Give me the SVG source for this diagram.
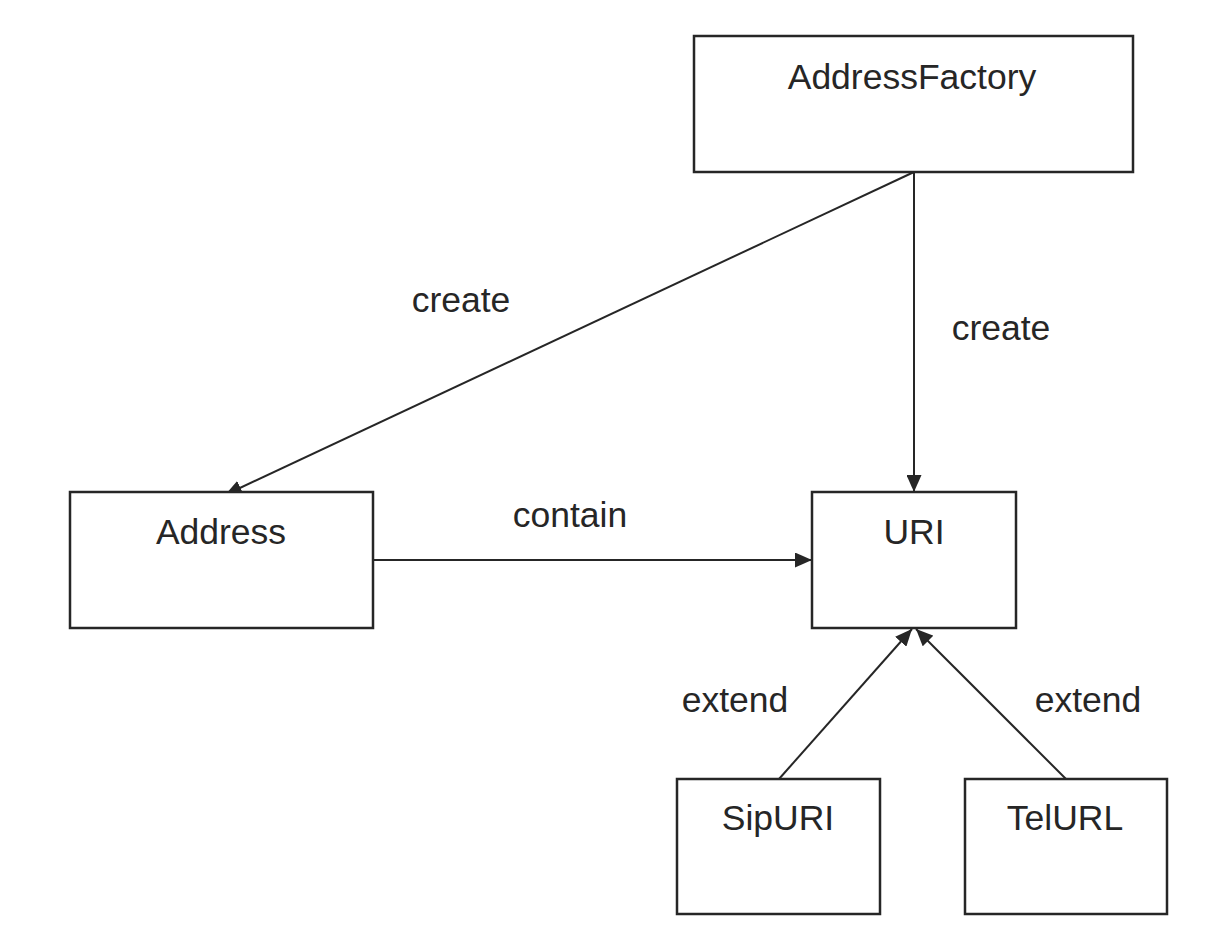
<svg xmlns="http://www.w3.org/2000/svg" width="1218" height="932" viewBox="0 0 1218 932">
<defs>
<marker id="arr" markerUnits="userSpaceOnUse" markerWidth="17" markerHeight="15" viewBox="0 0 17 15" refX="17" refY="7.5" orient="auto">
<path d="M0,0 L17,7.5 L0,15 z" fill="#262626"/>
</marker>
</defs>
<style>
.box{fill:#ffffff;stroke:#262626;stroke-width:2.5}
.edge{fill:none;stroke:#262626;stroke-width:2;marker-end:url(#arr)}
text{font-family:"Liberation Sans",Arial,sans-serif;font-size:35.5px;fill:#262626;text-anchor:middle}
</style>
<rect width="1218" height="932" fill="#ffffff"/>
<g id="connectors">
<line class="edge" x1="914" y1="172" x2="225" y2="495"/>
<line class="edge" x1="914" y1="172" x2="914" y2="492"/>
<line class="edge" x1="373" y1="560" x2="812" y2="560"/>
<line class="edge" x1="779" y1="779" x2="912" y2="629"/>
<line class="edge" x1="1066" y1="779" x2="916" y2="629"/>
<text x="461" y="312">create</text>
<text x="1001" y="340">create</text>
<text x="570" y="527">contain</text>
<text x="735" y="712">extend</text>
<text x="1088" y="712">extend</text>
</g>
<g id="AddressFactory">
<rect class="box" x="694" y="36" width="439" height="136"/>
<text x="912" y="89">AddressFactory</text>
</g>
<g id="Address">
<rect class="box" x="70" y="492" width="303" height="136"/>
<text x="221" y="544">Address</text>
</g>
<g id="URI">
<rect class="box" x="812" y="492" width="204" height="136"/>
<text x="914" y="544">URI</text>
</g>
<g id="SipURI">
<rect class="box" x="677" y="779" width="203" height="135"/>
<text x="778" y="830">SipURI</text>
</g>
<g id="TelURL">
<rect class="box" x="965" y="779" width="202" height="135"/>
<text x="1065" y="830">TelURL</text>
</g>
</svg>
